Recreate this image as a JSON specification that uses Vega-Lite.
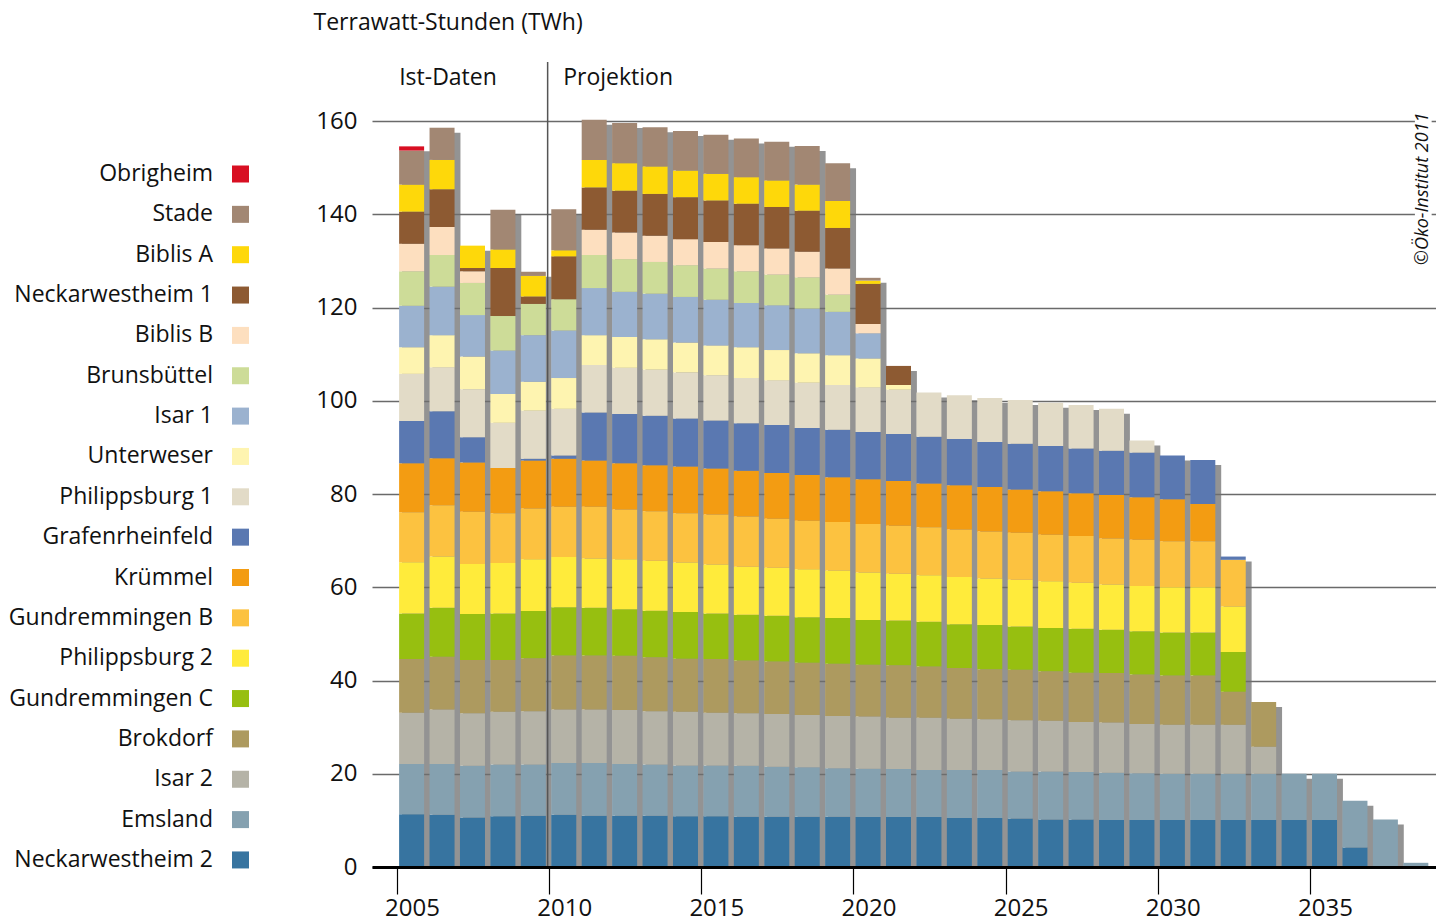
{
"$schema": "https://vega.github.io/schema/vega-lite/v6.json",
"width": 1064, "height": 805,
"autosize": {"type": "none"},
"padding": {"left": 372, "top": 62, "right": 0, "bottom": 56},
"background": "white",
"config": {"view": {"stroke": null}, "font": "Open Sans"},
"data": {"values": [
{"year":2005,"plant":"Neckarwestheim 2","twh":11.3},{"year":2005,"plant":"Emsland","twh":10.8},{"year":2005,"plant":"Isar 2","twh":11.0},{"year":2005,"plant":"Brokdorf","twh":11.5},{"year":2005,"plant":"Gundremmingen C","twh":9.8},{"year":2005,"plant":"Philippsburg 2","twh":11.0},{"year":2005,"plant":"Gundremmingen B","twh":10.7},{"year":2005,"plant":"Krümmel","twh":10.5},{"year":2005,"plant":"Grafenrheinfeld","twh":9.1},{"year":2005,"plant":"Philippsburg 1","twh":10.1},{"year":2005,"plant":"Unterweser","twh":5.7},{"year":2005,"plant":"Isar 1","twh":8.9},{"year":2005,"plant":"Brunsbüttel","twh":7.4},{"year":2005,"plant":"Biblis B","twh":5.9},{"year":2005,"plant":"Neckarwestheim 1","twh":6.9},{"year":2005,"plant":"Biblis A","twh":5.8},{"year":2005,"plant":"Stade","twh":7.3},{"year":2005,"plant":"Obrigheim","twh":0.9},
{"year":2006,"plant":"Neckarwestheim 2","twh":11.2},{"year":2006,"plant":"Emsland","twh":10.9},{"year":2006,"plant":"Isar 2","twh":11.7},{"year":2006,"plant":"Brokdorf","twh":11.3},{"year":2006,"plant":"Gundremmingen C","twh":10.5},{"year":2006,"plant":"Philippsburg 2","twh":11.0},{"year":2006,"plant":"Gundremmingen B","twh":11.0},{"year":2006,"plant":"Krümmel","twh":10.1},{"year":2006,"plant":"Grafenrheinfeld","twh":10.1},{"year":2006,"plant":"Philippsburg 1","twh":9.4},{"year":2006,"plant":"Unterweser","twh":6.9},{"year":2006,"plant":"Isar 1","twh":10.4},{"year":2006,"plant":"Brunsbüttel","twh":6.8},{"year":2006,"plant":"Biblis B","twh":6.0},{"year":2006,"plant":"Neckarwestheim 1","twh":8.1},{"year":2006,"plant":"Biblis A","twh":6.3},{"year":2006,"plant":"Stade","twh":6.9},
{"year":2007,"plant":"Neckarwestheim 2","twh":10.6},{"year":2007,"plant":"Emsland","twh":11.1},{"year":2007,"plant":"Isar 2","twh":11.3},{"year":2007,"plant":"Brokdorf","twh":11.4},{"year":2007,"plant":"Gundremmingen C","twh":9.9},{"year":2007,"plant":"Philippsburg 2","twh":10.7},{"year":2007,"plant":"Gundremmingen B","twh":11.2},{"year":2007,"plant":"Krümmel","twh":10.6},{"year":2007,"plant":"Grafenrheinfeld","twh":5.4},{"year":2007,"plant":"Philippsburg 1","twh":10.3},{"year":2007,"plant":"Unterweser","twh":7.0},{"year":2007,"plant":"Isar 1","twh":8.9},{"year":2007,"plant":"Brunsbüttel","twh":6.9},{"year":2007,"plant":"Biblis B","twh":2.5},{"year":2007,"plant":"Neckarwestheim 1","twh":0.7},{"year":2007,"plant":"Biblis A","twh":4.8},
{"year":2008,"plant":"Neckarwestheim 2","twh":10.9},{"year":2008,"plant":"Emsland","twh":11.1},{"year":2008,"plant":"Isar 2","twh":11.3},{"year":2008,"plant":"Brokdorf","twh":11.1},{"year":2008,"plant":"Gundremmingen C","twh":10.0},{"year":2008,"plant":"Philippsburg 2","twh":10.8},{"year":2008,"plant":"Gundremmingen B","twh":10.7},{"year":2008,"plant":"Krümmel","twh":9.7},{"year":2008,"plant":"Philippsburg 1","twh":9.7},{"year":2008,"plant":"Unterweser","twh":6.2},{"year":2008,"plant":"Isar 1","twh":9.3},{"year":2008,"plant":"Brunsbüttel","twh":7.4},{"year":2008,"plant":"Neckarwestheim 1","twh":10.3},{"year":2008,"plant":"Biblis A","twh":4.0},{"year":2008,"plant":"Stade","twh":8.5},
{"year":2009,"plant":"Neckarwestheim 2","twh":11.0},{"year":2009,"plant":"Emsland","twh":11.0},{"year":2009,"plant":"Isar 2","twh":11.4},{"year":2009,"plant":"Brokdorf","twh":11.4},{"year":2009,"plant":"Gundremmingen C","twh":10.1},{"year":2009,"plant":"Philippsburg 2","twh":11.1},{"year":2009,"plant":"Gundremmingen B","twh":10.9},{"year":2009,"plant":"Krümmel","twh":10.3},{"year":2009,"plant":"Grafenrheinfeld","twh":0.4},{"year":2009,"plant":"Philippsburg 1","twh":10.3},{"year":2009,"plant":"Unterweser","twh":6.2},{"year":2009,"plant":"Isar 1","twh":10.0},{"year":2009,"plant":"Brunsbüttel","twh":6.7},{"year":2009,"plant":"Neckarwestheim 1","twh":1.6},{"year":2009,"plant":"Biblis A","twh":4.4},{"year":2009,"plant":"Stade","twh":0.9},
{"year":2010,"plant":"Neckarwestheim 2","twh":11.2},{"year":2010,"plant":"Emsland","twh":11.1},{"year":2010,"plant":"Isar 2","twh":11.5},{"year":2010,"plant":"Brokdorf","twh":11.6},{"year":2010,"plant":"Gundremmingen C","twh":10.3},{"year":2010,"plant":"Philippsburg 2","twh":10.8},{"year":2010,"plant":"Gundremmingen B","twh":10.8},{"year":2010,"plant":"Krümmel","twh":10.3},{"year":2010,"plant":"Grafenrheinfeld","twh":0.7},{"year":2010,"plant":"Philippsburg 1","twh":10.0},{"year":2010,"plant":"Unterweser","twh":6.6},{"year":2010,"plant":"Isar 1","twh":10.2},{"year":2010,"plant":"Brunsbüttel","twh":6.7},{"year":2010,"plant":"Neckarwestheim 1","twh":9.2},{"year":2010,"plant":"Biblis A","twh":1.3},{"year":2010,"plant":"Stade","twh":8.8},
{"year":2011,"plant":"Neckarwestheim 2","twh":11.0},{"year":2011,"plant":"Emsland","twh":11.3},{"year":2011,"plant":"Isar 2","twh":11.5},{"year":2011,"plant":"Brokdorf","twh":11.6},{"year":2011,"plant":"Gundremmingen C","twh":10.2},{"year":2011,"plant":"Philippsburg 2","twh":10.6},{"year":2011,"plant":"Gundremmingen B","twh":11.1},{"year":2011,"plant":"Krümmel","twh":9.9},{"year":2011,"plant":"Grafenrheinfeld","twh":10.3},{"year":2011,"plant":"Philippsburg 1","twh":10.2},{"year":2011,"plant":"Unterweser","twh":6.4},{"year":2011,"plant":"Isar 1","twh":10.1},{"year":2011,"plant":"Brunsbüttel","twh":7.1},{"year":2011,"plant":"Biblis B","twh":5.4},{"year":2011,"plant":"Neckarwestheim 1","twh":9.1},{"year":2011,"plant":"Biblis A","twh":5.9},{"year":2011,"plant":"Stade","twh":8.6},
{"year":2012,"plant":"Neckarwestheim 2","twh":11.0},{"year":2012,"plant":"Emsland","twh":11.1},{"year":2012,"plant":"Isar 2","twh":11.6},{"year":2012,"plant":"Brokdorf","twh":11.6},{"year":2012,"plant":"Gundremmingen C","twh":10.0},{"year":2012,"plant":"Philippsburg 2","twh":10.7},{"year":2012,"plant":"Gundremmingen B","twh":10.7},{"year":2012,"plant":"Krümmel","twh":9.9},{"year":2012,"plant":"Grafenrheinfeld","twh":10.6},{"year":2012,"plant":"Philippsburg 1","twh":9.9},{"year":2012,"plant":"Unterweser","twh":6.6},{"year":2012,"plant":"Isar 1","twh":9.7},{"year":2012,"plant":"Brunsbüttel","twh":7.0},{"year":2012,"plant":"Biblis B","twh":5.7},{"year":2012,"plant":"Neckarwestheim 1","twh":9.0},{"year":2012,"plant":"Biblis A","twh":5.9},{"year":2012,"plant":"Stade","twh":8.6},
{"year":2013,"plant":"Neckarwestheim 2","twh":11.0},{"year":2013,"plant":"Emsland","twh":11.0},{"year":2013,"plant":"Isar 2","twh":11.4},{"year":2013,"plant":"Brokdorf","twh":11.6},{"year":2013,"plant":"Gundremmingen C","twh":10.0},{"year":2013,"plant":"Philippsburg 2","twh":10.7},{"year":2013,"plant":"Gundremmingen B","twh":10.6},{"year":2013,"plant":"Krümmel","twh":9.9},{"year":2013,"plant":"Grafenrheinfeld","twh":10.6},{"year":2013,"plant":"Philippsburg 1","twh":9.9},{"year":2013,"plant":"Unterweser","twh":6.5},{"year":2013,"plant":"Isar 1","twh":9.8},{"year":2013,"plant":"Brunsbüttel","twh":6.8},{"year":2013,"plant":"Biblis B","twh":5.6},{"year":2013,"plant":"Neckarwestheim 1","twh":9.0},{"year":2013,"plant":"Biblis A","twh":5.9},{"year":2013,"plant":"Stade","twh":8.4},
{"year":2014,"plant":"Neckarwestheim 2","twh":10.9},{"year":2014,"plant":"Emsland","twh":10.9},{"year":2014,"plant":"Isar 2","twh":11.5},{"year":2014,"plant":"Brokdorf","twh":11.4},{"year":2014,"plant":"Gundremmingen C","twh":10.0},{"year":2014,"plant":"Philippsburg 2","twh":10.6},{"year":2014,"plant":"Gundremmingen B","twh":10.6},{"year":2014,"plant":"Krümmel","twh":10.0},{"year":2014,"plant":"Grafenrheinfeld","twh":10.3},{"year":2014,"plant":"Philippsburg 1","twh":9.9},{"year":2014,"plant":"Unterweser","twh":6.4},{"year":2014,"plant":"Isar 1","twh":9.8},{"year":2014,"plant":"Brunsbüttel","twh":6.8},{"year":2014,"plant":"Biblis B","twh":5.6},{"year":2014,"plant":"Neckarwestheim 1","twh":9.0},{"year":2014,"plant":"Biblis A","twh":5.7},{"year":2014,"plant":"Stade","twh":8.5},
{"year":2015,"plant":"Neckarwestheim 2","twh":10.9},{"year":2015,"plant":"Emsland","twh":10.9},{"year":2015,"plant":"Isar 2","twh":11.3},{"year":2015,"plant":"Brokdorf","twh":11.5},{"year":2015,"plant":"Gundremmingen C","twh":9.8},{"year":2015,"plant":"Philippsburg 2","twh":10.5},{"year":2015,"plant":"Gundremmingen B","twh":10.7},{"year":2015,"plant":"Krümmel","twh":9.9},{"year":2015,"plant":"Grafenrheinfeld","twh":10.3},{"year":2015,"plant":"Philippsburg 1","twh":9.7},{"year":2015,"plant":"Unterweser","twh":6.4},{"year":2015,"plant":"Isar 1","twh":9.8},{"year":2015,"plant":"Brunsbüttel","twh":6.7},{"year":2015,"plant":"Biblis B","twh":5.7},{"year":2015,"plant":"Neckarwestheim 1","twh":8.9},{"year":2015,"plant":"Biblis A","twh":5.7},{"year":2015,"plant":"Stade","twh":8.4},
{"year":2016,"plant":"Neckarwestheim 2","twh":10.8},{"year":2016,"plant":"Emsland","twh":10.9},{"year":2016,"plant":"Isar 2","twh":11.3},{"year":2016,"plant":"Brokdorf","twh":11.3},{"year":2016,"plant":"Gundremmingen C","twh":9.8},{"year":2016,"plant":"Philippsburg 2","twh":10.3},{"year":2016,"plant":"Gundremmingen B","twh":10.8},{"year":2016,"plant":"Krümmel","twh":9.8},{"year":2016,"plant":"Grafenrheinfeld","twh":10.2},{"year":2016,"plant":"Philippsburg 1","twh":9.7},{"year":2016,"plant":"Unterweser","twh":6.6},{"year":2016,"plant":"Isar 1","twh":9.5},{"year":2016,"plant":"Brunsbüttel","twh":6.8},{"year":2016,"plant":"Biblis B","twh":5.6},{"year":2016,"plant":"Neckarwestheim 1","twh":8.9},{"year":2016,"plant":"Biblis A","twh":5.7},{"year":2016,"plant":"Stade","twh":8.3},
{"year":2017,"plant":"Neckarwestheim 2","twh":10.8},{"year":2017,"plant":"Emsland","twh":10.7},{"year":2017,"plant":"Isar 2","twh":11.3},{"year":2017,"plant":"Brokdorf","twh":11.3},{"year":2017,"plant":"Gundremmingen C","twh":9.8},{"year":2017,"plant":"Philippsburg 2","twh":10.3},{"year":2017,"plant":"Gundremmingen B","twh":10.5},{"year":2017,"plant":"Krümmel","twh":9.8},{"year":2017,"plant":"Grafenrheinfeld","twh":10.3},{"year":2017,"plant":"Philippsburg 1","twh":9.6},{"year":2017,"plant":"Unterweser","twh":6.5},{"year":2017,"plant":"Isar 1","twh":9.6},{"year":2017,"plant":"Brunsbüttel","twh":6.6},{"year":2017,"plant":"Biblis B","twh":5.6},{"year":2017,"plant":"Neckarwestheim 1","twh":8.9},{"year":2017,"plant":"Biblis A","twh":5.7},{"year":2017,"plant":"Stade","twh":8.3},
{"year":2018,"plant":"Neckarwestheim 2","twh":10.8},{"year":2018,"plant":"Emsland","twh":10.6},{"year":2018,"plant":"Isar 2","twh":11.2},{"year":2018,"plant":"Brokdorf","twh":11.2},{"year":2018,"plant":"Gundremmingen C","twh":9.8},{"year":2018,"plant":"Philippsburg 2","twh":10.3},{"year":2018,"plant":"Gundremmingen B","twh":10.4},{"year":2018,"plant":"Krümmel","twh":9.8},{"year":2018,"plant":"Grafenrheinfeld","twh":10.1},{"year":2018,"plant":"Philippsburg 1","twh":9.7},{"year":2018,"plant":"Unterweser","twh":6.3},{"year":2018,"plant":"Isar 1","twh":9.6},{"year":2018,"plant":"Brunsbüttel","twh":6.7},{"year":2018,"plant":"Biblis B","twh":5.5},{"year":2018,"plant":"Neckarwestheim 1","twh":8.8},{"year":2018,"plant":"Biblis A","twh":5.6},{"year":2018,"plant":"Stade","twh":8.3},
{"year":2019,"plant":"Neckarwestheim 2","twh":10.8},{"year":2019,"plant":"Emsland","twh":10.4},{"year":2019,"plant":"Isar 2","twh":11.2},{"year":2019,"plant":"Brokdorf","twh":11.2},{"year":2019,"plant":"Gundremmingen C","twh":9.8},{"year":2019,"plant":"Philippsburg 2","twh":10.2},{"year":2019,"plant":"Gundremmingen B","twh":10.4},{"year":2019,"plant":"Krümmel","twh":9.6},{"year":2019,"plant":"Grafenrheinfeld","twh":10.2},{"year":2019,"plant":"Philippsburg 1","twh":9.6},{"year":2019,"plant":"Unterweser","twh":6.4},{"year":2019,"plant":"Isar 1","twh":9.3},{"year":2019,"plant":"Brunsbüttel","twh":3.7},{"year":2019,"plant":"Biblis B","twh":5.6},{"year":2019,"plant":"Neckarwestheim 1","twh":8.7},{"year":2019,"plant":"Biblis A","twh":5.8},{"year":2019,"plant":"Stade","twh":8.1},
{"year":2020,"plant":"Neckarwestheim 2","twh":10.7},{"year":2020,"plant":"Emsland","twh":10.4},{"year":2020,"plant":"Isar 2","twh":11.2},{"year":2020,"plant":"Brokdorf","twh":11.1},{"year":2020,"plant":"Gundremmingen C","twh":9.6},{"year":2020,"plant":"Philippsburg 2","twh":10.2},{"year":2020,"plant":"Gundremmingen B","twh":10.4},{"year":2020,"plant":"Krümmel","twh":9.6},{"year":2020,"plant":"Grafenrheinfeld","twh":10.1},{"year":2020,"plant":"Philippsburg 1","twh":9.6},{"year":2020,"plant":"Unterweser","twh":6.2},{"year":2020,"plant":"Isar 1","twh":5.4},{"year":2020,"plant":"Biblis B","twh":2.0},{"year":2020,"plant":"Neckarwestheim 1","twh":8.6},{"year":2020,"plant":"Biblis A","twh":0.7},{"year":2020,"plant":"Stade","twh":0.6},
{"year":2021,"plant":"Neckarwestheim 2","twh":10.7},{"year":2021,"plant":"Emsland","twh":10.3},{"year":2021,"plant":"Isar 2","twh":11.0},{"year":2021,"plant":"Brokdorf","twh":11.3},{"year":2021,"plant":"Gundremmingen C","twh":9.6},{"year":2021,"plant":"Philippsburg 2","twh":10.0},{"year":2021,"plant":"Gundremmingen B","twh":10.3},{"year":2021,"plant":"Krümmel","twh":9.6},{"year":2021,"plant":"Grafenrheinfeld","twh":10.1},{"year":2021,"plant":"Philippsburg 1","twh":9.5},{"year":2021,"plant":"Unterweser","twh":1.0},{"year":2021,"plant":"Neckarwestheim 1","twh":4.1},
{"year":2022,"plant":"Neckarwestheim 2","twh":10.7},{"year":2022,"plant":"Emsland","twh":10.1},{"year":2022,"plant":"Isar 2","twh":11.2},{"year":2022,"plant":"Brokdorf","twh":11.0},{"year":2022,"plant":"Gundremmingen C","twh":9.6},{"year":2022,"plant":"Philippsburg 2","twh":10.0},{"year":2022,"plant":"Gundremmingen B","twh":10.3},{"year":2022,"plant":"Krümmel","twh":9.4},{"year":2022,"plant":"Grafenrheinfeld","twh":10.0},{"year":2022,"plant":"Philippsburg 1","twh":9.5},
{"year":2023,"plant":"Neckarwestheim 2","twh":10.5},{"year":2023,"plant":"Emsland","twh":10.3},{"year":2023,"plant":"Isar 2","twh":11.0},{"year":2023,"plant":"Brokdorf","twh":10.9},{"year":2023,"plant":"Gundremmingen C","twh":9.4},{"year":2023,"plant":"Philippsburg 2","twh":10.1},{"year":2023,"plant":"Gundremmingen B","twh":10.2},{"year":2023,"plant":"Krümmel","twh":9.5},{"year":2023,"plant":"Grafenrheinfeld","twh":9.9},{"year":2023,"plant":"Philippsburg 1","twh":9.4},
{"year":2024,"plant":"Neckarwestheim 2","twh":10.5},{"year":2024,"plant":"Emsland","twh":10.3},{"year":2024,"plant":"Isar 2","twh":10.9},{"year":2024,"plant":"Brokdorf","twh":10.7},{"year":2024,"plant":"Gundremmingen C","twh":9.5},{"year":2024,"plant":"Philippsburg 2","twh":10.0},{"year":2024,"plant":"Gundremmingen B","twh":10.1},{"year":2024,"plant":"Krümmel","twh":9.5},{"year":2024,"plant":"Grafenrheinfeld","twh":9.7},{"year":2024,"plant":"Philippsburg 1","twh":9.4},
{"year":2025,"plant":"Neckarwestheim 2","twh":10.4},{"year":2025,"plant":"Emsland","twh":10.1},{"year":2025,"plant":"Isar 2","twh":11.0},{"year":2025,"plant":"Brokdorf","twh":10.8},{"year":2025,"plant":"Gundremmingen C","twh":9.3},{"year":2025,"plant":"Philippsburg 2","twh":10.0},{"year":2025,"plant":"Gundremmingen B","twh":10.1},{"year":2025,"plant":"Krümmel","twh":9.3},{"year":2025,"plant":"Grafenrheinfeld","twh":9.8},{"year":2025,"plant":"Philippsburg 1","twh":9.4},
{"year":2026,"plant":"Neckarwestheim 2","twh":10.2},{"year":2026,"plant":"Emsland","twh":10.3},{"year":2026,"plant":"Isar 2","twh":10.9},{"year":2026,"plant":"Brokdorf","twh":10.6},{"year":2026,"plant":"Gundremmingen C","twh":9.3},{"year":2026,"plant":"Philippsburg 2","twh":10.0},{"year":2026,"plant":"Gundremmingen B","twh":10.0},{"year":2026,"plant":"Krümmel","twh":9.3},{"year":2026,"plant":"Grafenrheinfeld","twh":9.7},{"year":2026,"plant":"Philippsburg 1","twh":9.3},
{"year":2027,"plant":"Neckarwestheim 2","twh":10.2},{"year":2027,"plant":"Emsland","twh":10.2},{"year":2027,"plant":"Isar 2","twh":10.7},{"year":2027,"plant":"Brokdorf","twh":10.6},{"year":2027,"plant":"Gundremmingen C","twh":9.4},{"year":2027,"plant":"Philippsburg 2","twh":9.9},{"year":2027,"plant":"Gundremmingen B","twh":10.0},{"year":2027,"plant":"Krümmel","twh":9.2},{"year":2027,"plant":"Grafenrheinfeld","twh":9.6},{"year":2027,"plant":"Philippsburg 1","twh":9.3},
{"year":2028,"plant":"Neckarwestheim 2","twh":10.1},{"year":2028,"plant":"Emsland","twh":10.1},{"year":2028,"plant":"Isar 2","twh":10.8},{"year":2028,"plant":"Brokdorf","twh":10.6},{"year":2028,"plant":"Gundremmingen C","twh":9.3},{"year":2028,"plant":"Philippsburg 2","twh":9.7},{"year":2028,"plant":"Gundremmingen B","twh":9.9},{"year":2028,"plant":"Krümmel","twh":9.3},{"year":2028,"plant":"Grafenrheinfeld","twh":9.5},{"year":2028,"plant":"Philippsburg 1","twh":9.0},
{"year":2029,"plant":"Neckarwestheim 2","twh":10.1},{"year":2029,"plant":"Emsland","twh":10.0},{"year":2029,"plant":"Isar 2","twh":10.6},{"year":2029,"plant":"Brokdorf","twh":10.6},{"year":2029,"plant":"Gundremmingen C","twh":9.3},{"year":2029,"plant":"Philippsburg 2","twh":9.7},{"year":2029,"plant":"Gundremmingen B","twh":9.9},{"year":2029,"plant":"Krümmel","twh":9.1},{"year":2029,"plant":"Grafenrheinfeld","twh":9.6},{"year":2029,"plant":"Philippsburg 1","twh":2.6},
{"year":2030,"plant":"Neckarwestheim 2","twh":10.1},{"year":2030,"plant":"Emsland","twh":9.9},{"year":2030,"plant":"Isar 2","twh":10.5},{"year":2030,"plant":"Brokdorf","twh":10.6},{"year":2030,"plant":"Gundremmingen C","twh":9.2},{"year":2030,"plant":"Philippsburg 2","twh":9.7},{"year":2030,"plant":"Gundremmingen B","twh":9.9},{"year":2030,"plant":"Krümmel","twh":9.0},{"year":2030,"plant":"Grafenrheinfeld","twh":9.4},
{"year":2031,"plant":"Neckarwestheim 2","twh":10.1},{"year":2031,"plant":"Emsland","twh":9.9},{"year":2031,"plant":"Isar 2","twh":10.5},{"year":2031,"plant":"Brokdorf","twh":10.6},{"year":2031,"plant":"Gundremmingen C","twh":9.2},{"year":2031,"plant":"Philippsburg 2","twh":9.7},{"year":2031,"plant":"Gundremmingen B","twh":9.9},{"year":2031,"plant":"Krümmel","twh":8.0},{"year":2031,"plant":"Grafenrheinfeld","twh":9.4},
{"year":2032,"plant":"Neckarwestheim 2","twh":10.1},{"year":2032,"plant":"Emsland","twh":9.9},{"year":2032,"plant":"Isar 2","twh":10.5},{"year":2032,"plant":"Brokdorf","twh":7.1},{"year":2032,"plant":"Gundremmingen C","twh":8.5},{"year":2032,"plant":"Philippsburg 2","twh":9.8},{"year":2032,"plant":"Gundremmingen B","twh":10.0},{"year":2032,"plant":"Grafenrheinfeld","twh":0.7},
{"year":2033,"plant":"Neckarwestheim 2","twh":10.1},{"year":2033,"plant":"Emsland","twh":9.9},{"year":2033,"plant":"Isar 2","twh":5.8},{"year":2033,"plant":"Brokdorf","twh":9.6},
{"year":2034,"plant":"Neckarwestheim 2","twh":10.1},{"year":2034,"plant":"Emsland","twh":9.9},
{"year":2035,"plant":"Neckarwestheim 2","twh":10.1},{"year":2035,"plant":"Emsland","twh":9.9},
{"year":2036,"plant":"Neckarwestheim 2","twh":4.2},{"year":2036,"plant":"Emsland","twh":10.0},
{"year":2037,"plant":"Emsland","twh":10.2},
{"year":2038,"plant":"Emsland","twh":0.9}
]},
"layer": [
{
"transform": [{"aggregate": [{"op": "sum", "field": "twh", "as": "total"}], "groupby": ["year"]}],
"mark": {"type": "bar", "size": 28, "xOffset": 19, "yOffset": 5, "color": "#6f6f6f", "opacity": 0.75},
"encoding": {
"x": {"field": "year", "type": "quantitative", "scale": {"domain": [2004.178, 2039.143], "nice": false, "zero": false, "padding": 0}, "axis": {"values": [2005, 2010, 2015, 2020, 2025, 2030, 2035], "format": "d", "title": null, "grid": false, "domainColor": "#000", "domainWidth": 3, "tickColor": "#000", "tickWidth": 1.2, "tickSize": 27, "labelOffset": 15, "labelPadding": 2, "labelFontSize": 24, "labelColor": "#111", "labelFont": "Open Sans", "labelFontWeight": 500, "labelFlush": false, "labelOverlap": false, "zindex": 1}},
"y": {"field": "total", "type": "quantitative", "scale": {"domain": [0, 172.7], "nice": false, "padding": 0}, "stack": null, "axis": {"values": [0, 20, 40, 60, 80, 100, 120, 140, 160], "title": "Terrawatt-Stunden (TWh)", "titleAngle": 0, "titleAlign": "left", "titleBaseline": "alphabetic", "titleX": -59, "titleY": -33, "titleFontSize": 23, "titleFontWeight": 500, "titleColor": "#111", "titleFont": "Open Sans", "domain": false, "ticks": false, "grid": true, "gridColor": "#6a6a6a", "gridWidth": 1.3, "labelFontSize": 24, "labelPadding": 15, "labelColor": "#111", "labelFontWeight": 500, "labelFont": "Open Sans"}}
}
},
{
"transform": [{"calculate": "indexof(['Neckarwestheim 2','Emsland','Isar 2','Brokdorf','Gundremmingen C','Philippsburg 2','Gundremmingen B','Krümmel','Grafenrheinfeld','Philippsburg 1','Unterweser','Isar 1','Brunsbüttel','Biblis B','Neckarwestheim 1','Biblis A','Stade','Obrigheim'], datum.plant)", "as": "k"}],
"mark": {"type": "bar", "size": 25, "xOffset": 14.6},
"encoding": {
"x": {"field": "year", "type": "quantitative", "axis": {"values": [2005, 2010, 2015, 2020, 2025, 2030, 2035], "format": "d", "title": null, "grid": false, "domainColor": "#000", "domainWidth": 3, "tickColor": "#000", "tickWidth": 1.2, "tickSize": 27, "labelOffset": 15, "labelPadding": 2, "labelFontSize": 24, "labelColor": "#111", "labelFont": "Open Sans", "labelFontWeight": 500, "labelFlush": false, "labelOverlap": false, "zindex": 1}},
"y": {"field": "twh", "type": "quantitative", "stack": "zero", "axis": {"values": [0, 20, 40, 60, 80, 100, 120, 140, 160], "title": "Terrawatt-Stunden (TWh)", "titleAngle": 0, "titleAlign": "left", "titleBaseline": "alphabetic", "titleX": -59, "titleY": -33, "titleFontSize": 23, "titleFontWeight": 500, "titleColor": "#111", "titleFont": "Open Sans", "domain": false, "ticks": false, "grid": true, "gridColor": "#6a6a6a", "gridWidth": 1.3, "labelFontSize": 24, "labelPadding": 15, "labelColor": "#111", "labelFontWeight": 500, "labelFont": "Open Sans"}},
"color": {"field": "plant", "type": "nominal",
"scale": {"domain": ["Obrigheim","Stade","Biblis A","Neckarwestheim 1","Biblis B","Brunsbüttel","Isar 1","Unterweser","Philippsburg 1","Grafenrheinfeld","Krümmel","Gundremmingen B","Philippsburg 2","Gundremmingen C","Brokdorf","Isar 2","Emsland","Neckarwestheim 2"],
"range": ["#d80f22","#a28773","#fed80a","#8d5a32","#fddfbf","#cddc98","#9bb2cf","#fef4b0","#e2dbc7","#5a78b1","#f39c12","#fcc240","#ffeb3b","#97bf10","#ad9a5f","#b5b3a7","#85a1b0","#3774a0"]},
"legend": {"orient": "none", "legendX": -143, "legendY": 100.5, "title": null, "direction": "vertical", "symbolType": "square", "symbolSize": 289, "symbolStrokeWidth": 0, "symbolOpacity": 1, "labelAlign": "right", "labelOffset": -39, "labelFontSize": 23, "labelFont": "Open Sans", "labelFontWeight": 500, "labelColor": "#111", "rowPadding": 16.35, "labelLimit": 400}},
"order": {"field": "k", "type": "quantitative"}
}
},
{
"data": {"values": [{}]},
"mark": {"type": "rule", "color": "#555", "strokeWidth": 1.5},
"encoding": {"x": {"datum": 2009.95, "type": "quantitative"}}
},
{
"data": {"values": [{}]},
"mark": {"type": "text", "text": "Ist-Daten", "align": "left", "baseline": "alphabetic", "fontSize": 23, "fontWeight": 500, "color": "#111", "font": "Open Sans"},
"encoding": {"x": {"datum": 2005.07, "type": "quantitative"}, "y": {"datum": 167.8, "type": "quantitative"}}
},
{
"data": {"values": [{}]},
"mark": {"type": "text", "text": "Projektion", "align": "left", "baseline": "alphabetic", "fontSize": 23, "fontWeight": 500, "color": "#111", "font": "Open Sans"},
"encoding": {"x": {"datum": 2010.46, "type": "quantitative"}, "y": {"datum": 167.8, "type": "quantitative"}}
},
{
"data": {"values": [{}]},
"mark": {"type": "rect", "color": "white"},
"encoding": {"x": {"datum": 2038.45, "type": "quantitative"}, "x2": {"datum": 2039.0}, "y": {"datum": 129.5, "type": "quantitative"}, "y2": {"datum": 161.5}}
},
{
"data": {"values": [{}]},
"mark": {"type": "text", "text": "©Öko-Institut 2011", "align": "center", "baseline": "middle", "angle": 270, "fontSize": 18, "fontStyle": "italic", "color": "#111", "font": "Open Sans"},
"encoding": {"x": {"datum": 2038.72, "type": "quantitative"}, "y": {"datum": 145.5, "type": "quantitative"}}
}
]
}
